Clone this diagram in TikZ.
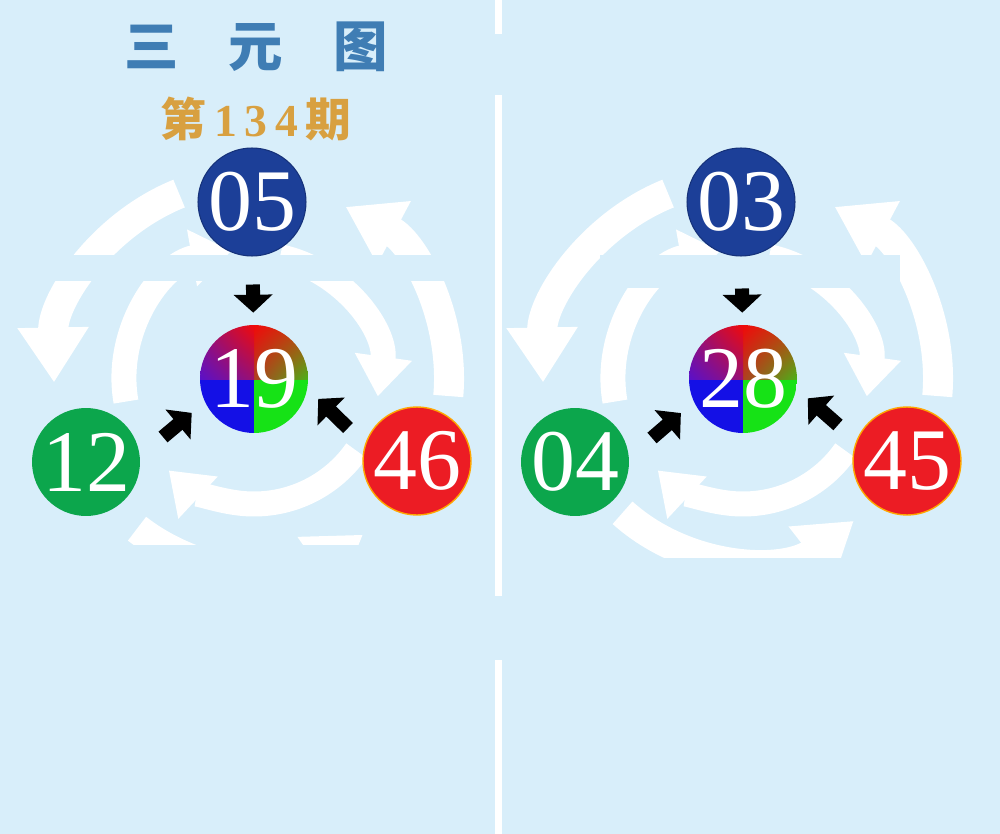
\documentclass[tikz,border=0pt]{standalone}
\usepackage{fontspec}
\setmainfont{Liberation Serif}
\newfontfamily\cjk{Noto Sans CJK SC}
\usetikzlibrary{arrows.meta,shadings}
\definecolor{bgblue}{HTML}{D8EEFA}
\definecolor{ballblue}{HTML}{1C3F98}
\definecolor{ballgreen}{HTML}{0CA64C}
\definecolor{ballred}{HTML}{EC1C24}
\definecolor{titleblue}{HTML}{3F7DB4}
\definecolor{gold}{HTML}{D8A040}
\definecolor{mixblue}{HTML}{1410E6}
\definecolor{mixgreen}{HTML}{16E216}
\definecolor{mixbrown}{HTML}{C04010}
\definecolor{mixolive}{HTML}{4CB018}
\definecolor{mixcore}{HTML}{B04020}
\definecolor{mixmag}{HTML}{9A1070}
\definecolor{mixpurple}{HTML}{5A10C8}
\definecolor{mixred}{HTML}{F00A0A}

\tikzset{
  ball/.style={circle, minimum size=2.16cm, inner sep=0pt, text=white,
    font=\fontsize{50}{50}\selectfont},
  blueball/.style={ball, fill=ballblue, draw=ballblue!80!black, line width=0.6pt},
  greenball/.style={ball, fill=ballgreen},
  redball/.style={ball, fill=ballred, draw=orange!70!yellow, line width=0.8pt},
  mixball/.style={ball, path picture={
    \fill[mixblue] (path picture bounding box.center) rectangle (path picture bounding box.south west);
    \fill[mixgreen] (path picture bounding box.center) rectangle (path picture bounding box.south east);
    \shade[upper left=mixred, upper right=mixbrown, lower left=mixcore, lower right=mixolive]
      (path picture bounding box.center) rectangle (path picture bounding box.north east);
    \shade[upper left=mixmag, upper right=mixred, lower left=mixpurple, lower right=mixmag]
      (path picture bounding box.north west) rectangle (path picture bounding box.center);
  }},
  blk/.style={line width=0.28cm, -{Triangle[length=0.36cm,width=0.76cm]}},
  outflow/.style={white, line width=0.6cm, -{Triangle[length=1.1cm,width=1.35cm]}},
  inflow/.style={white, line width=0.5cm, -{Triangle[length=0.8cm,width=1.1cm]}},
}

\begin{document}
\begin{tikzpicture}[x=0.02cm, y=0.02cm]
\useasboundingbox (0,0) rectangle (1000,-834);
\fill[bgblue] (0,0) rectangle (1000,-834);

\coordinate (m19) at (254,-379);
\coordinate (m28) at (743,-379);

% left flows
\draw[outflow] (m19) ++(112:200) arc[start angle=112, end angle=181, radius=200];
\draw[outflow] (m19) ++(232:190) arc[start angle=232, end angle=305, radius=190];
\draw[outflow] (m19) ++(-5:195) arc[start angle=-5, end angle=62, radius=195];
\draw[inflow] (m19) ++(78:125) arc[start angle=78, end angle=-8, radius=125];
\draw[inflow] (m19) ++(-35:125) arc[start angle=-35, end angle=-133, radius=125];
\draw[inflow] (m19) ++(190:130) arc[start angle=190, end angle=100, radius=130];

% right flows
\draw[outflow] (m28) ++(112:200) arc[start angle=112, end angle=181, radius=200];
\draw[outflow] (m28) ++(228:180) arc[start angle=228, end angle=308, radius=180];
\draw[outflow] (m28) ++(-5:195) arc[start angle=-5, end angle=62, radius=195];
\draw[inflow] (m28) ++(78:125) arc[start angle=78, end angle=-8, radius=125];
\draw[inflow] (m28) ++(-35:125) arc[start angle=-35, end angle=-133, radius=125];
\draw[inflow] (m28) ++(190:130) arc[start angle=190, end angle=100, radius=130];

\fill[bgblue] (55,-255) rectangle (485,-281);
\fill[bgblue] (600,-255) rectangle (900,-288);
\fill[bgblue] (0,-545) rectangle (495,-834);
\fill[bgblue] (502,-558) rectangle (1000,-834);

\fill[white] (495,0) rectangle (502,-34);
\fill[white] (495,-95) rectangle (502,-596);
\fill[white] (495,-660) rectangle (502,-834);

\node[text=titleblue, font=\cjk\bfseries\fontsize{31}{31}\selectfont] (ttl) at (256,-47) {三\hspace{1cm}元\hspace{1cm}图};
\node[text=gold, font=\bfseries\fontsize{26}{26}\selectfont] (issue) at (256,-119) {{\cjk 第}\,1\,3\,4\,{\cjk 期}};

\node[blueball] (b05) at (252,-202) {05};
\node[mixball] (c19) at (m19) {19};
\node[greenball] (b12) at (86,-462) {12};
\node[redball] (b46) at (417,-461) {46};

\node[blueball] (b03) at (741,-202) {03};
\node[mixball] (c28) at (m28) {28};
\node[greenball] (b04) at (575,-462) {04};
\node[redball] (b45) at (907,-461) {45};

\coordinate (t12) at (163,-437);
\coordinate (t46) at (348,-428);
\coordinate (t04) at (652,-438);
\coordinate (t45) at (838,-425);

\draw[blk, shorten <=0.56cm, shorten >=0.24cm] (b05) -- (c19);
\draw[blk, shorten >=0.34cm] (t12) -- (c19.205);
\draw[blk, shorten >=0.3cm] (t46) -- (c19.350);
\draw[blk, shorten <=0.64cm, shorten >=0.24cm] (b03) -- (c28);
\draw[blk, shorten >=0.34cm] (t04) -- (c28.205);
\draw[blk, shorten >=0.3cm] (t45) -- (c28.350);
\end{tikzpicture}
\end{document}
